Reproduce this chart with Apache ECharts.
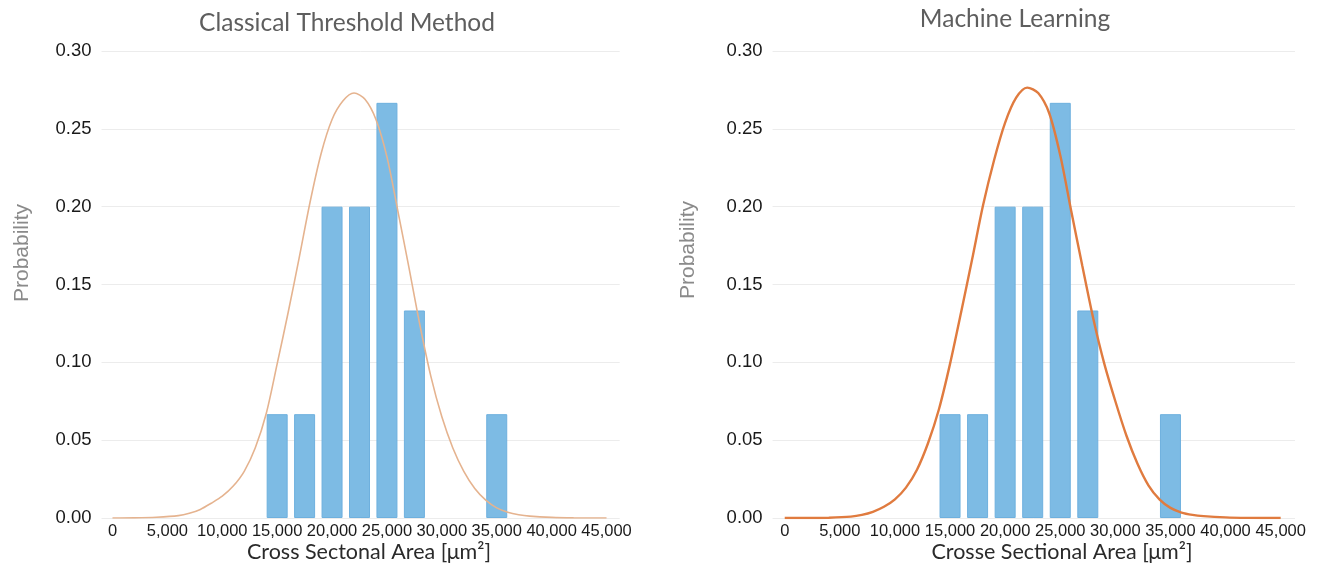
<!DOCTYPE html>
<html>
<head>
<meta charset="utf-8">
<script src="https://cdn.jsdelivr.net/npm/echarts@6/dist/echarts.min.js"></script>
<style>
html,body{margin:0;padding:0;background:#fff;}
#chart{width:1323px;height:568px;}
</style>
</head>
<body>
<div id="chart"></div>
<script>
// ---- data ----
const binCenters = [15000, 17500, 20000, 22500, 25000, 27500, 35000];
const probClassical = [0.0667, 0.0667, 0.2, 0.2, 0.2667, 0.1333, 0.0667];
const probML = [0.0667, 0.0667, 0.2, 0.2, 0.2667, 0.1333, 0.0667];

const curveClassicalX = [0, 2000, 4000, 6000, 7000, 8000, 9000, 10000, 11000, 12000, 13000, 14000, 15000, 16000, 17000, 18000, 19000, 20000, 21000, 22000, 23000, 24000, 25000, 26000, 27000, 28000, 29000, 30000, 31000, 32000, 33000, 34000, 35000, 36000, 37000, 38000, 40000, 42000, 45000];
const curveClassicalY = [0, 0.0001, 0.0005, 0.0015, 0.003, 0.0055, 0.0095, 0.014, 0.0205, 0.030, 0.045, 0.067, 0.099, 0.132, 0.167, 0.203, 0.234, 0.256, 0.268, 0.273, 0.269, 0.256, 0.232, 0.197, 0.161, 0.124, 0.091, 0.065, 0.045, 0.030, 0.019, 0.0115, 0.0065, 0.0037, 0.0021, 0.0012, 0.0004, 0.0001, 0];

const curveMLX = [0, 2000, 4000, 6000, 7000, 8000, 9000, 10000, 11000, 12000, 13000, 14000, 15000, 16000, 17000, 18000, 19000, 20000, 21000, 22000, 23000, 24000, 25000, 26000, 27000, 28000, 29000, 30000, 31000, 32000, 33000, 34000, 35000, 36000, 37000, 38000, 40000, 42000, 45000];
const curveMLY = [0, 0, 0.0002, 0.0009, 0.002, 0.004, 0.0072, 0.012, 0.0195, 0.031, 0.048, 0.070, 0.099, 0.132, 0.166, 0.201, 0.230, 0.254, 0.270, 0.2765, 0.273, 0.260, 0.233, 0.197, 0.162, 0.128, 0.099, 0.075, 0.053, 0.035, 0.021, 0.012, 0.0065, 0.0035, 0.002, 0.0012, 0.0004, 0.0001, 0];

const xTickValues = [0, 5000, 10000, 15000, 20000, 25000, 30000, 35000, 40000, 45000];

const titles = ['Classical Threshold Method', 'Machine Learning'];
const xNames = ['Cross Sectonal Area [\u03BCm\u00B2]', 'Crosse Sectional Area [\u03BCm\u00B2]'];
const yName = 'Probability';

// ---- chart ----
const pairs = (xs, ys) => xs.map((x, i) => [x, ys[i]]);
const tickFont = "'Liberation Sans', Arial, sans-serif";
const titleFont = "Lato, 'Open Sans', sans-serif";

function xAxis(idx, min, max) {
  return {
    type: 'value', gridIndex: idx, min: min, max: max,
    axisLine: {show: false}, axisTick: {show: false}, splitLine: {show: false},
    axisLabel: {
      customValues: xTickValues,
      formatter: v => v.toLocaleString('en-US'),
      color: '#1a1a1a', fontSize: 16.5, fontFamily: tickFont, margin: 5
    }
  };
}
function yAxis(idx) {
  return {
    type: 'value', gridIndex: idx, min: 0, max: 0.30, interval: 0.05,
    axisLine: {show: false}, axisTick: {show: false},
    splitLine: {lineStyle: {color: '#ececec', width: 1}},
    axisLabel: {formatter: v => v.toFixed(2), color: '#1a1a1a', fontSize: 18.5, fontFamily: tickFont, margin: 10}
  };
}

const chart = echarts.init(document.getElementById('chart'), null, {renderer: 'canvas'});
chart.setOption({
  backgroundColor: '#ffffff',
  animation: false,
  title: [
    {text: titles[0], left: 342, top: 6, textAlign: 'center', textStyle: {color: '#5e5e5e', fontSize: 24.5, fontWeight: 'normal', fontFamily: titleFont}},
    {text: titles[1], left: 1010, top: 2, textAlign: 'center', textStyle: {color: '#5e5e5e', fontSize: 24.5, fontWeight: 'normal', fontFamily: titleFont}},
    {text: xNames[0], left: 364, top: 536, textAlign: 'center', textStyle: {color: '#2a2a2a', fontSize: 21.5, fontWeight: 'normal', fontFamily: titleFont}},
    {text: xNames[1], left: 1057, top: 536, textAlign: 'center', textStyle: {color: '#2a2a2a', fontSize: 21.5, fontWeight: 'normal', fontFamily: titleFont}}
  ],
  graphic: [
    {type: 'text', x: 22, y: 253, rotation: Math.PI / 2, style: {text: yName, align: 'center', verticalAlign: 'middle', fill: '#8a8a8a', font: "21px 'Liberation Sans', Arial, sans-serif"}},
    {type: 'text', x: 688, y: 250, rotation: Math.PI / 2, style: {text: yName, align: 'center', verticalAlign: 'middle', fill: '#8a8a8a', font: "21px 'Liberation Sans', Arial, sans-serif"}}
  ],
  grid: [
    {left: 101.5, width: 518.2, top: 51, height: 467},
    {left: 772.6, width: 522.4, top: 51, height: 467}
  ],
  xAxis: [xAxis(0, -1000, 46200), xAxis(1, -1100, 46300)],
  yAxis: [yAxis(0), yAxis(1)],
  series: [
    {type: 'bar', xAxisIndex: 0, yAxisIndex: 0, barWidth: 21, data: pairs(binCenters, probClassical),
     itemStyle: {color: '#7dbbe4', borderColor: '#6eb0de', borderWidth: 1}},
    {type: 'line', xAxisIndex: 0, yAxisIndex: 0, smooth: 0.3, showSymbol: false, data: pairs(curveClassicalX, curveClassicalY),
     lineStyle: {color: '#e5b38f', width: 1.6}},
    {type: 'bar', xAxisIndex: 1, yAxisIndex: 1, barWidth: 21, data: pairs(binCenters, probML),
     itemStyle: {color: '#7dbbe4', borderColor: '#6eb0de', borderWidth: 1}},
    {type: 'line', xAxisIndex: 1, yAxisIndex: 1, smooth: 0.3, showSymbol: false, data: pairs(curveMLX, curveMLY),
     lineStyle: {color: '#e07b3f', width: 2.4}}
  ]
});
</script>
</body>
</html>
